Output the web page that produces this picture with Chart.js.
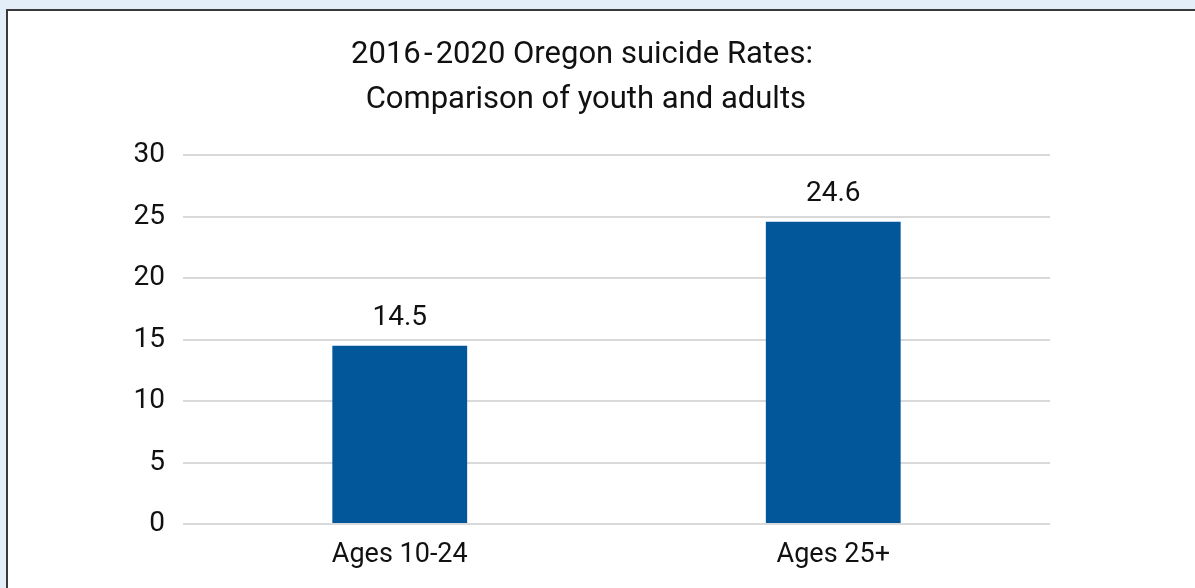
<!DOCTYPE html>
<html>
<head>
<meta charset="utf-8">
<script src="https://cdn.jsdelivr.net/npm/chart.js@4.4.0/dist/chart.umd.min.js"></script>
<style>
  body { margin: 0; background: #e3eef9; width: 1195px; height: 588px; overflow: hidden; }
  #frame { position: absolute; left: 6px; top: 9px; width: 1200px; height: 600px; background: #fff;
           border-left: 2px solid #3a3a3a; border-top: 2px solid #3a3a3a; }
  #wrap { position: absolute; left: 0; top: 0; width: 1195px; height: 588px; }
</style>
</head>
<body>
<div id="frame"></div>
<div id="wrap"><canvas id="chart"></canvas></div>
<script>
var categories = ["Ages 10-24", "Ages 25+"];
var rates = [14.5, 24.6];
var titleLines = ["2016\u200A-\u200A2020 Oregon suicide Rates:", " Comparison of youth and adults"];
var yTicks = [0, 5, 10, 15, 20, 25, 30];

var fontFam = "Roboto, 'Liberation Sans', sans-serif";

// value above each bar
var barLabels = {
    id: 'barLabels',
    afterDatasetsDraw(chart) {
        const ctx = chart.ctx;
        const meta = chart.getDatasetMeta(0);
        ctx.save();
        ctx.font = "28px " + fontFam;
        ctx.fillStyle = "#111";
        ctx.textAlign = "center";
        ctx.textBaseline = "alphabetic";
        meta.data.forEach((bar, i) => {
            ctx.fillText(rates[i].toFixed(1), bar.x, bar.y - 21);
        });
        ctx.restore();
    }
};

const ctx = document.getElementById("chart").getContext("2d");
new Chart(ctx, {
    type: "bar",
    data: {
        labels: categories,
        datasets: [{
            data: rates,
            backgroundColor: "#02569a",
            categoryPercentage: 1,
            barPercentage: 0.311
        }]
    },
    options: {
        responsive: true,
        maintainAspectRatio: false,
        animation: false,
        layout: { padding: { left: 114, right: 145, top: 10, bottom: 0 } },
        plugins: {
            legend: { display: false },
            tooltip: { enabled: false },
            title: {
                display: true,
                text: titleLines,
                color: "#111",
                font: { family: fontFam, size: 31, weight: "normal", lineHeight: 1.44 },
                padding: { top: 23, bottom: 33 }
            }
        },
        scales: {
            x: {
                grid: { display: false, drawTicks: false },
                border: { display: false },
                ticks: { color: "#111", padding: 15, font: { family: fontFam, size: 27 } },
                afterFit: (s) => { s.height = 64; }
            },
            y: {
                min: 0,
                max: 30,
                afterBuildTicks: (s) => { s.ticks = yTicks.map(v => ({ value: v })); },
                grid: { color: "#d9d9d9", lineWidth: 2, drawTicks: false },
                border: { display: false },
                ticks: { color: "#111", padding: 18, font: { family: fontFam, size: 28 } },
                afterFit: (s) => { s.width = 69; }
            }
        }
    },
    plugins: [barLabels]
});
</script>
</body>
</html>
